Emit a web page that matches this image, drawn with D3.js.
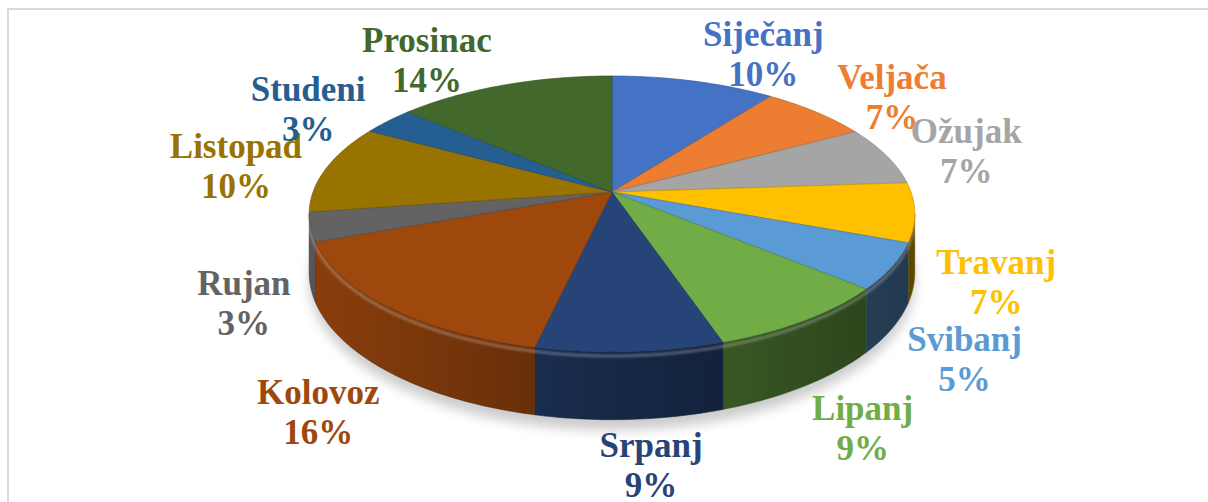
<!DOCTYPE html>
<html>
<head>
<meta charset="utf-8">
<script src="https://cdn.jsdelivr.net/npm/d3@7"></script>
<style>
  body { margin: 0; background: #fff; }
  svg { display: block; }
</style>
</head>
<body>
<script>
var months = ["Siječanj", "Veljača", "Ožujak", "Travanj", "Svibanj", "Lipanj",
              "Srpanj", "Kolovoz", "Rujan", "Listopad", "Studeni", "Prosinac"];
var shares = [10.2, 6.8, 6.9, 6.9, 5.4, 8.7, 8.6, 15.8, 3.4, 10.4, 3.3, 13.6];
var colors = ["#4472C4", "#ED7D31", "#A5A5A5", "#FFC000", "#5B9BD5", "#70AD47",
              "#264478", "#9E480E", "#636363", "#997300", "#255E91", "#43682B"];

var width = 1208, height = 502;

// pie geometry (perspective tilted disc)
var cx = 612, cy = 192;
var rx = 299, ry = 134.5, depth = 57, persp = 0.159;

var svg = d3.select("body").append("svg")
    .attr("width", width)
    .attr("height", height);

var defs = svg.append("defs");

svg.append("rect")
    .attr("x", 8).attr("y", 9)
    .attr("width", 1220).attr("height", 520)
    .attr("fill", "#fff")
    .attr("stroke", "#d9d9d9")
    .attr("stroke-width", 2);

var total = d3.sum(shares);
var pct = d3.format(".0%");

var pie = d3.pie().sort(null).value(function(d){ return d; });
var arcs = pie(shares);

// project a point of the disc: angle (clockwise from 12 o'clock), radius factor, drop (0 top .. 1 bottom)
function proj(a, r, h) {
    var u = r * Math.sin(a), v = -r * Math.cos(a);
    var w = 1 - persp * v;
    return [cx + rx * u / w, cy + (ry * v + h * depth) / w];
}

function rim(a0, a1, h) {
    var n = Math.max(2, Math.ceil((a1 - a0) / (Math.PI / 180)));
    return d3.range(n + 1).map(function(i){ return proj(a0 + (a1 - a0) * i / n, 1, h); });
}

var line = d3.line();

// shadow under the disc
var blur = defs.append("filter").attr("id", "shadow")
    .attr("x", "-20%").attr("y", "-20%").attr("width", "140%").attr("height", "140%");
blur.append("feGaussianBlur").attr("stdDeviation", 6);

svg.append("path")
    .attr("d", line(rim(0, 2 * Math.PI, 1.08)) + "Z")
    .attr("transform", "translate(0,5)")
    .attr("fill", "#000")
    .attr("opacity", 0.2)
    .attr("filter", "url(#shadow)");

// side faces: only the front part of the rim is visible
var vis = Math.asin(persp);
var lo = Math.PI / 2 + vis, hi = 3 * Math.PI / 2 - vis;

arcs.forEach(function(d, i) {
    var g = defs.append("linearGradient")
        .attr("id", "side" + i)
        .attr("gradientUnits", "userSpaceOnUse")
        .attr("x1", cx - rx).attr("x2", cx + rx)
        .attr("y1", 0).attr("y2", 0);
    g.append("stop").attr("offset", 0).attr("stop-color", d3.color(colors[i]).darker(0.4));
    g.append("stop").attr("offset", 0.5).attr("stop-color", d3.color(colors[i]).darker(1.5));
    g.append("stop").attr("offset", 1).attr("stop-color", d3.color(colors[i]).darker(2.8));
});

var sides = svg.append("g").attr("class", "sides");
arcs.forEach(function(d, i) {
    var a0 = Math.max(d.startAngle, lo), a1 = Math.min(d.endAngle, hi);
    if (a1 <= a0) return;
    var top = rim(a0, a1, 0), bottom = rim(a0, a1, 1).reverse();
    sides.append("path")
        .attr("d", line(top.concat(bottom)) + "Z")
        .attr("fill", "url(#side" + i + ")")
        .attr("stroke", d3.color(colors[i]).darker(2))
        .attr("stroke-width", 0.5);
});

// bevel highlight at the top of the side
var hl = defs.append("filter").attr("id", "soft");
hl.append("feGaussianBlur").attr("stdDeviation", 1.2);
svg.append("path")
    .attr("d", line(rim(lo, hi, 0.06)))
    .attr("fill", "none")
    .attr("stroke", "#fff")
    .attr("stroke-opacity", 0.25)
    .attr("stroke-width", 3)
    .attr("filter", "url(#soft)");

// top faces
svg.append("g").attr("class", "tops")
  .selectAll("path")
  .data(arcs)
  .enter().append("path")
    .attr("d", function(d){ return line([[cx, cy]].concat(rim(d.startAngle, d.endAngle, 0))) + "Z"; })
    .attr("fill", function(d, i){ return colors[i]; })
    .attr("stroke", function(d, i){ return d3.color(colors[i]).darker(0.8); })
    .attr("stroke-width", 0.6)
    .attr("stroke-linejoin", "round");

// labels (outside end): inner edge of the label box sits on a ring round the 3D body
var labels = svg.append("g").attr("class", "labels")
  .selectAll("text")
  .data(arcs)
  .enter().append("text")
    .attr("text-anchor", "middle")
    .attr("font-family", "'Liberation Serif', 'Times New Roman', serif")
    .attr("font-weight", "bold")
    .attr("font-size", 35)
    .attr("fill", function(d, i){ return colors[i]; });

var t1 = labels.append("tspan").text(function(d, i){ return months[i]; });
var t2 = labels.append("tspan").text(function(d){ return pct(d.value / total); });

labels.each(function(d) {
    var el = d3.select(this);
    var w = d3.max(el.selectAll("tspan").nodes(), function(n){ return n.getComputedTextLength(); });
    var a = (d.startAngle + d.endAngle) / 2;
    var s = Math.sin(a), c = Math.cos(a);
    var p = 1 / (1 + 0.12 * c);
    var x = cx + 322 * s * p + Math.sign(s) * (w / 2) * Math.min(1, Math.abs(s) * 8);
    var y = c >= 0 ? cy - 145 * c : cy + 58 - 215 * c;
    el.selectAll("tspan")
        .attr("x", x)
        .attr("y", function(dd, j){ return y - 8 + j * 40; });
});
</script>
</body>
</html>
